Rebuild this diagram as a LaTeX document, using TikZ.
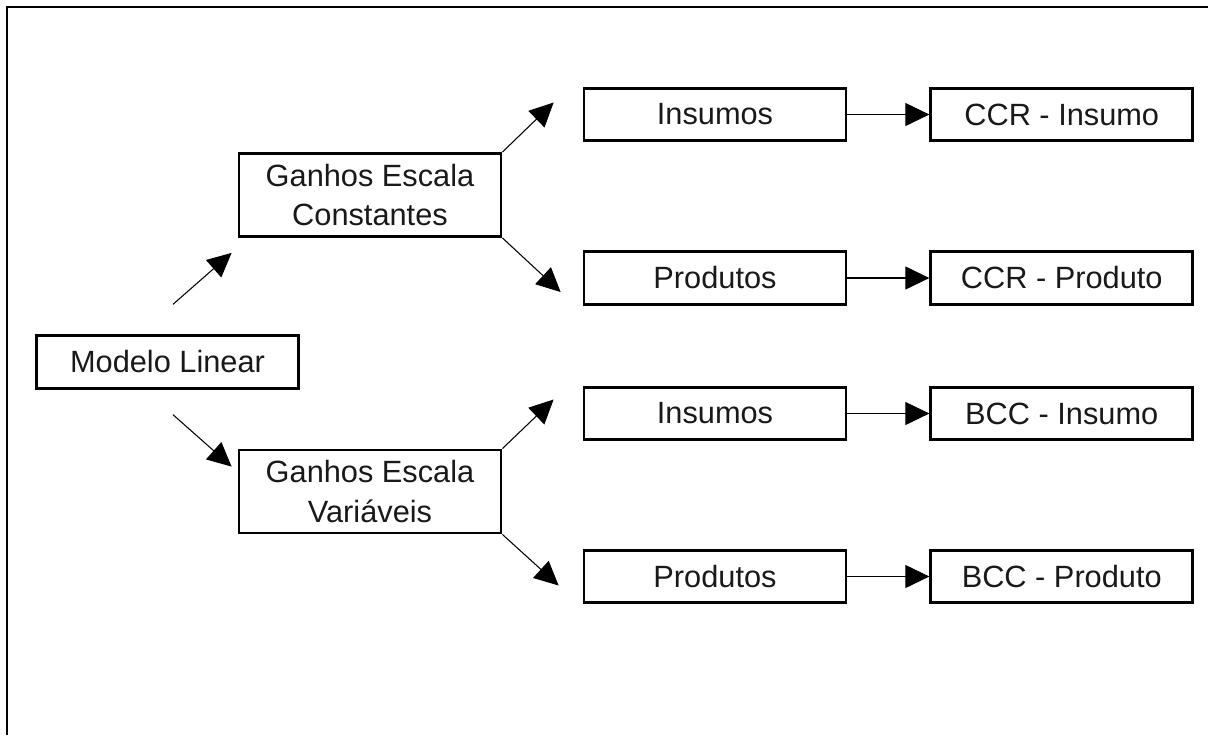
\documentclass[tikz,border=0pt]{standalone}
\usepackage{fontspec}
\setmainfont{Liberation Sans}
\usepackage{tikz}
\usetikzlibrary{arrows.meta,positioning,calc}
\tikzstyle{arrow} = [-{Triangle[length=0.48cm,width=0.46cm]}, line width=0.6pt]
\tikzstyle{process} = [rectangle, draw, line width=1.6pt, text=black!90,
   minimum width=5.24cm, minimum height=1.05cm, inner sep=0pt, text centered,
   font=\fontsize{17.5}{22.5}\selectfont]
\tikzstyle{gain} = [process, minimum height=1.66cm, align=center]

\begin{document}
\begin{tikzpicture}[x=0.02cm, y=-0.02cm, node distance=1.64cm]

\useasboundingbox (0,0) rectangle (1208,735);
\draw [line width=1.2pt] (7,735) -- (7,7) -- (1208,7);

\node (ml) [process] at (167.5,362) {Modelo Linear};

\node (gec) [gain] at (370,195) {Ganhos Escala\\Constantes};
\node (gev) [gain] at (370,491.5) {Ganhos Escala\\Variáveis};

\draw [arrow] ($(ml.north)+(5.5,-30)$) -- ($(gec.south west)+(-6,15)$);
\draw [arrow] ($(ml.south)+(5.5,25)$) -- ($(gev.north west)+(-6,18)$);

\node (ins1) [process] at (715,114.5) {Insumos};
\node (prod1) [process] at (715,278) {Produtos};
\node (ins2) [process] at (715,413.5) {Insumos};
\node (prod2) [process] at (715,576.5) {Produtos};

\draw [arrow] (gec.north east) -- ($(ins1.west)+(-29,-12)$);
\draw [arrow] (gec.south east) -- ($(prod1.west)+(-22,14)$);
\draw [arrow] (gev.north east) -- ($(ins2.west)+(-29,-14)$);
\draw [arrow] (gev.south east) -- ($(prod2.west)+(-24,9)$);

\node (ccri) [process, right=of ins1] {CCR - Insumo};
\node (ccrp) [process, right=of prod1] {CCR - Produto};
\node (bcci) [process, right=of ins2] {BCC - Insumo};
\node (bccp) [process, right=of prod2] {BCC - Produto};

\draw [arrow] (ins1) -- (ccri);
\draw [arrow] (prod1) -- (ccrp);
\draw [arrow] (ins2) -- (bcci);
\draw [arrow] (prod2) -- (bccp);

\end{tikzpicture}
\end{document}
